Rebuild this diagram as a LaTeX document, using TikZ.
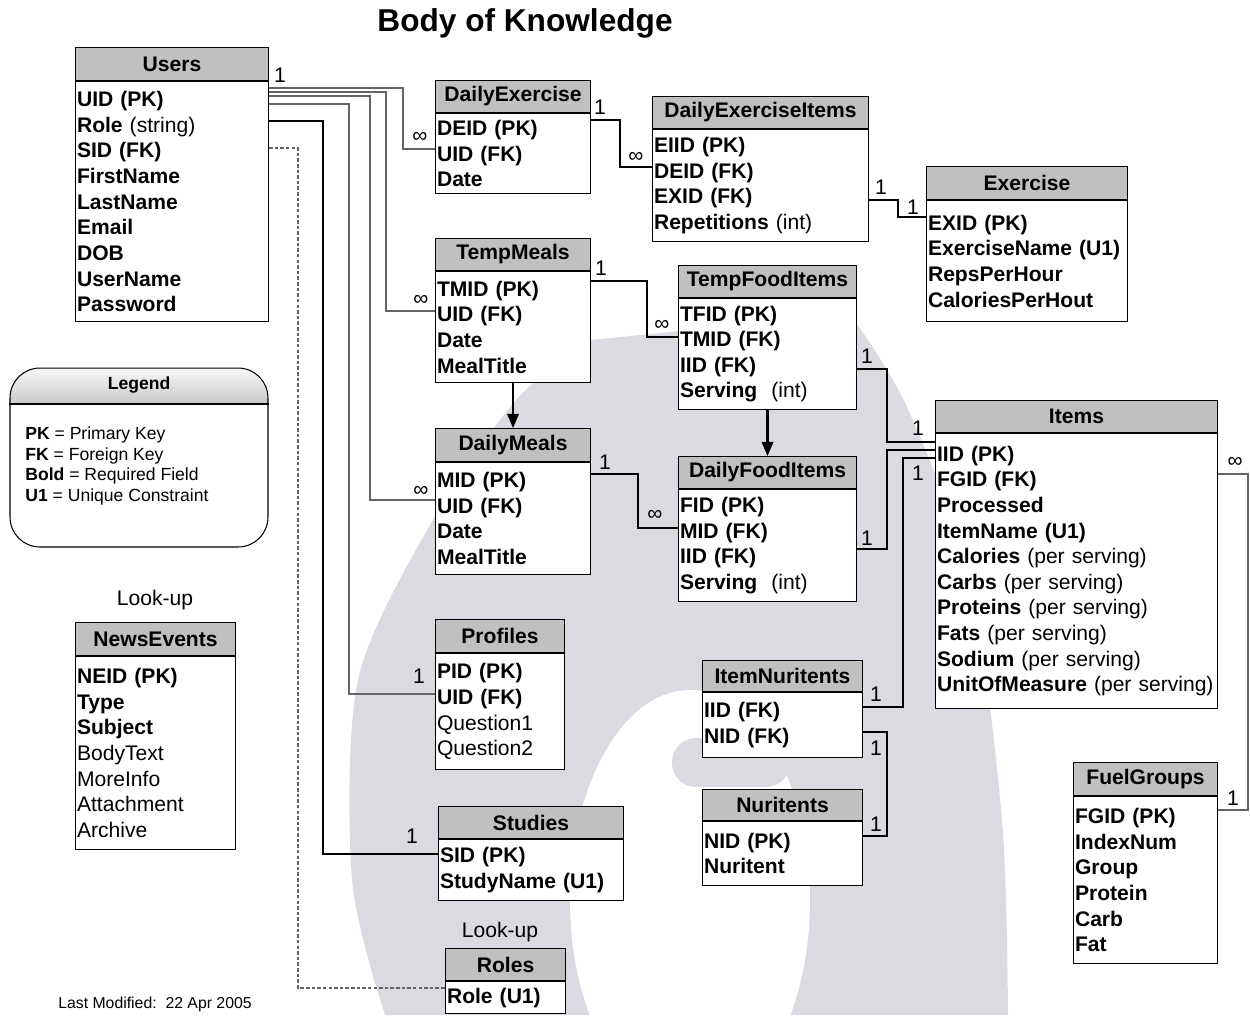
\documentclass[tikz,border=0pt]{standalone}
\usepackage{fontspec}
\setmainfont{Liberation Sans}
\usetikzlibrary{positioning, arrows.meta}
\definecolor{headgray}{RGB}{192,192,192}
\definecolor{markgray}{RGB}{218,219,224}
\definecolor{linkgray}{RGB}{100,100,100}

\begin{document}
\begin{tikzpicture}[
  x=0.02cm, y=-0.02cm,
  tblhead/.style={draw, fill=headgray, line width=0.6pt, anchor=north west,
    inner sep=0pt, font=\fontsize{12}{14.6}\selectfont\bfseries},
  tblbody/.style={draw, fill=white, line width=0.6pt, align=left,
    inner xsep=0.03cm, inner ysep=1pt, font=\fontsize{12}{14.6}\selectfont},
  link/.style={draw=linkgray, line width=0.6pt},
  mainlink/.style={draw=black, line width=0.6pt},
  card/.style={font=\fontsize{12}{14}\selectfont, inner sep=0pt},
  flow/.style={-{Triangle[length=8pt, width=6.5pt]}, line width=1.2pt},
  note/.style={font=\fontsize{12}{14}\selectfont, inner sep=0pt},
]
\useasboundingbox (0,0) rectangle (1250,1015);

% watermark behind everything
\fill[markgray] (591,340) -- (850,314)
  -- plot[smooth] coordinates {(850,314) (907,407) (970,580) (1002,820) (1008,1015)}
  -- (385,1015)
  -- plot[smooth] coordinates {(385,1015) (352,880) (358,680) (430,525) (516,400) (591,340)}
  -- cycle;
\fill[white] (690,900) ellipse [x radius=2.4cm, y radius=4.2cm];
\fill[markgray, rounded corners=0.48cm] (672,738) rectangle (790,787);

\node[font=\fontsize{18}{20}\selectfont\bfseries] (title) at (525,23) {Body of Knowledge};

% ===== Users and its lookups =====
\node[tblhead, minimum width=3.86cm, minimum height=0.66cm] (usersh) at (75,47) {Users};
\node[tblbody, below=0pt of usersh, minimum width=3.86cm, minimum height=4.8cm,
  text width=3.80cm] (usersb)
  {\textbf{UID (PK)}\\\textbf{Role} (string)\\\textbf{SID (FK)}\\\textbf{FirstName}\\
   \textbf{LastName}\\\textbf{Email}\\\textbf{DOB}\\\textbf{UserName}\\\textbf{Password}};

% legend
\begin{scope}
  \clip[rounded corners=17pt] (10,368) rectangle (268,547);
  \shade[top color=gray!6, bottom color=gray!42] (10,368) rectangle (268,404);
\end{scope}
\node[draw, rounded corners=17pt, line width=0.6pt, minimum width=5.16cm,
  minimum height=3.58cm] (legend) at (139,457.5) {};
\draw[line width=0.6pt] (legend.west |- 0,404) -- (legend.east |- 0,404);
\node[font=\fontsize{10}{12}\selectfont\bfseries] (legendtitle) at (139,385) {Legend};
\node[anchor=west, align=left, inner sep=0pt, font=\fontsize{10}{11.7}\selectfont]
  (legendkeys) at (25,466)
  {\textbf{PK} = Primary Key\\\textbf{FK} = Foreign Key\\
   \textbf{Bold} = Required Field\\\textbf{U1} = Unique Constraint};

\node[note] (lookup1) at (155,600) {Look-up};
\node[tblhead, minimum width=3.2cm, minimum height=0.66cm] (newsh) at (75,622) {NewsEvents};
\node[tblbody, below=0pt of newsh, minimum width=3.2cm, minimum height=3.86cm,
  text width=3.14cm] (newsb)
  {\textbf{NEID (PK)}\\\textbf{Type}\\\textbf{Subject}\\BodyText\\MoreInfo\\Attachment\\Archive};

\node[font=\fontsize{9}{11}\selectfont] (modified) at (155,1004) {Last Modified:\ \ 22 Apr 2005};

% ===== exercise chain =====
\node[tblhead, minimum width=3.10cm, minimum height=0.64cm] (dexh) at (435,80) {DailyExercise};
\node[tblbody, below=0pt of dexh, minimum width=3.10cm, minimum height=1.6cm,
  text width=3.04cm] (dexb)
  {\textbf{DEID (PK)}\\\textbf{UID (FK)}\\\textbf{Date}};

\node[tblhead, minimum width=4.32cm, minimum height=0.64cm] (dexih) at (652,96) {DailyExerciseItems};
\node[tblbody, below=0pt of dexih, minimum width=4.32cm, minimum height=2.24cm,
  text width=4.26cm] (dexib)
  {\textbf{EIID (PK)}\\\textbf{DEID (FK)}\\\textbf{EXID (FK)}\\\textbf{Repetitions} (int)};

\node[tblhead, minimum width=4.02cm, minimum height=0.66cm] (exh) at (926,166) {Exercise};
\node[tblbody, below=0pt of exh, minimum width=4.02cm, minimum height=2.42cm,
  text width=3.96cm] (exb)
  {\textbf{EXID (PK)}\\\textbf{ExerciseName~(U1)}\\\textbf{RepsPerHour}\\\textbf{CaloriesPerHout}};

% ===== meals and food items =====
\node[tblhead, minimum width=3.10cm, minimum height=0.64cm] (tmealsh) at (435,238) {TempMeals};
\node[tblbody, below=0pt of tmealsh, minimum width=3.10cm, minimum height=2.22cm,
  text width=3.04cm] (tmealsb)
  {\textbf{TMID (PK)}\\\textbf{UID (FK)}\\\textbf{Date}\\\textbf{MealTitle}};

\node[tblhead, minimum width=3.56cm, minimum height=0.64cm] (tfoodh) at (678,265) {TempFoodItems};
\node[tblbody, below=0pt of tfoodh, minimum width=3.56cm, minimum height=2.22cm,
  text width=3.50cm] (tfoodb)
  {\textbf{TFID (PK)}\\\textbf{TMID (FK)}\\\textbf{IID (FK)}\\\textbf{Serving}~ (int)};

\node[tblhead, minimum width=3.10cm, minimum height=0.66cm] (dmealsh) at (435,428) {DailyMeals};
\node[tblbody, below=0pt of dmealsh, minimum width=3.10cm, minimum height=2.24cm,
  text width=3.04cm] (dmealsb)
  {\textbf{MID (PK)}\\\textbf{UID (FK)}\\\textbf{Date}\\\textbf{MealTitle}};

\node[tblhead, minimum width=3.56cm, minimum height=0.64cm] (dfoodh) at (678,456) {DailyFoodItems};
\node[tblbody, below=0pt of dfoodh, minimum width=3.56cm, minimum height=2.24cm,
  text width=3.50cm] (dfoodb)
  {\textbf{FID (PK)}\\\textbf{MID (FK)}\\\textbf{IID (FK)}\\\textbf{Serving}~ (int)};

\node[tblhead, minimum width=5.64cm, minimum height=0.64cm] (itemsh) at (935,400) {Items};
\node[tblbody, below=0pt of itemsh, minimum width=5.64cm, minimum height=5.5cm,
  text width=5.58cm] (itemsb)
  {\textbf{IID (PK)}\\\textbf{FGID (FK)}\\\textbf{Processed}\\\textbf{ItemName (U1)}\\
   \textbf{Calories} (per serving)\\\textbf{Carbs} (per serving)\\\textbf{Proteins} (per serving)\\
   \textbf{Fats} (per serving)\\\textbf{Sodium} (per serving)\\\textbf{UnitOfMeasure}~(per~serving)};

\node[tblhead, minimum width=3.2cm, minimum height=0.62cm] (itemnh) at (702,660) {ItemNuritents};
\node[tblbody, below=0pt of itemnh, minimum width=3.2cm, minimum height=1.3cm,
  text width=3.14cm] (itemnb)
  {\textbf{IID (FK)}\\\textbf{NID (FK)}};

\node[tblhead, minimum width=3.2cm, minimum height=0.62cm] (nurh) at (702,789) {Nuritents};
\node[tblbody, below=0pt of nurh, minimum width=3.2cm, minimum height=1.28cm,
  text width=3.14cm] (nurb)
  {\textbf{NID (PK)}\\\textbf{Nuritent}};

\node[tblhead, minimum width=2.88cm, minimum height=0.66cm] (fuelh) at (1073,762) {FuelGroups};
\node[tblbody, below=0pt of fuelh, minimum width=2.88cm, minimum height=3.34cm,
  text width=2.82cm] (fuelb)
  {\textbf{FGID (PK)}\\\textbf{IndexNum}\\\textbf{Group}\\\textbf{Protein}\\\textbf{Carb}\\\textbf{Fat}};

% ===== profiles, studies, roles =====
\node[tblhead, minimum width=2.58cm, minimum height=0.66cm] (profh) at (435,619) {Profiles};
\node[tblbody, below=0pt of profh, minimum width=2.58cm, minimum height=2.32cm,
  text width=2.52cm] (profb)
  {\textbf{PID (PK)}\\\textbf{UID (FK)}\\Question1\\Question2};

\node[tblhead, minimum width=3.7cm, minimum height=0.64cm] (studh) at (438,806) {Studies};
\node[tblbody, below=0pt of studh, minimum width=3.7cm, minimum height=1.22cm,
  text width=3.64cm] (studb)
  {\textbf{SID (PK)}\\\textbf{StudyName~(U1)}};

\node[note] (lookup2) at (500,932) {Look-up};
\node[tblhead, minimum width=2.4cm, minimum height=0.64cm] (rolesh) at (445,948) {Roles};
\node[tblbody, below=0pt of rolesh, minimum width=2.4cm, minimum height=0.64cm,
  text width=2.34cm] (rolesb)
  {\textbf{Role (U1)}};

% ===== connectors from Users =====
\draw[link] (usersb.east |- 0,88) -| (403,149) -- (dexb.west |- 0,149);
\draw[link] (usersb.east |- 0,92) -| (386,311) -- (tmealsb.west |- 0,311);
\draw[link] (usersb.east |- 0,96) -| (370,500) -- (dmealsb.west |- 0,500);
\draw[link] (usersb.east |- 0,104) -| (349,694) -- (profb.west |- 0,694);
\draw[mainlink] (usersb.east |- 0,121) -| (323,854) -- (studb.west |- 0,854);
\draw[link, dashed, dash pattern=on 2pt off 1.2pt] (usersb.east |- 0,148) -| (298,988)
  -- (rolesb.west |- 0,988);
\node[card] (c1) at (280,75) {1};
\node[card] (c2) at (420,137) {∞};
\node[card] (c3) at (421,300) {∞};
\node[card] (c4) at (421,491) {∞};
\node[card] (c5) at (419,676) {1};
\node[card] (c6) at (412,836) {1};

% ===== other connectors =====
\draw[mainlink] (dexb.east |- 0,120) -| (620,167) -- (dexib.west |- 0,167);
\node[card] (c7) at (600,107) {1};
\node[card] (c8) at (636,157) {∞};
\draw[mainlink] (dexib.east |- 0,200) -| (898,217) -- (exb.west |- 0,217);
\node[card] (c9) at (881,187) {1};
\node[card] (c10) at (913,207) {1};

\draw[mainlink] (tmealsb.east |- 0,281) -| (647,337) -- (tfoodb.west |- 0,337);
\node[card] (c11) at (601,268) {1};
\node[card] (c12) at (662,325) {∞};
\draw[mainlink] (dmealsb.east |- 0,474) -| (638,528) -- (dfoodb.west |- 0,528);
\node[card] (c13) at (605,462) {1};
\node[card] (c14) at (655,515) {∞};

\draw[flow] (tmealsb.south) -- (dmealsh.north);
\draw[flow] (tfoodb.south) -- (dfoodh.north);

\draw[mainlink] (tfoodb.east |- 0,369) -| (887,442) -- (itemsb.west |- 0,442);
\node[card] (c15) at (867,356) {1};
\node[card] (c16) at (918,428) {1};
\draw[mainlink] (dfoodb.east |- 0,549) -| (887,450) -- (itemsb.west |- 0,450);
\node[card] (c17) at (867,538) {1};
\draw[mainlink] (itemnb.east |- 0,707) -| (903,458) -- (itemsb.west |- 0,458);
\node[card] (c18) at (876,694) {1};
\node[card] (c19) at (918,473) {1};
\draw[mainlink] (itemnb.east |- 0,732) -| (887,836) -- (nurb.east |- 0,836);
\node[card] (c20) at (876,748) {1};
\node[card] (c21) at (876,824) {1};
\draw[link] (itemsb.east |- 0,474) -| (1248,810) -- (fuelb.east |- 0,810);
\node[card] (c22) at (1235,462) {∞};
\node[card] (c23) at (1233,798) {1};

\end{tikzpicture}
\end{document}
